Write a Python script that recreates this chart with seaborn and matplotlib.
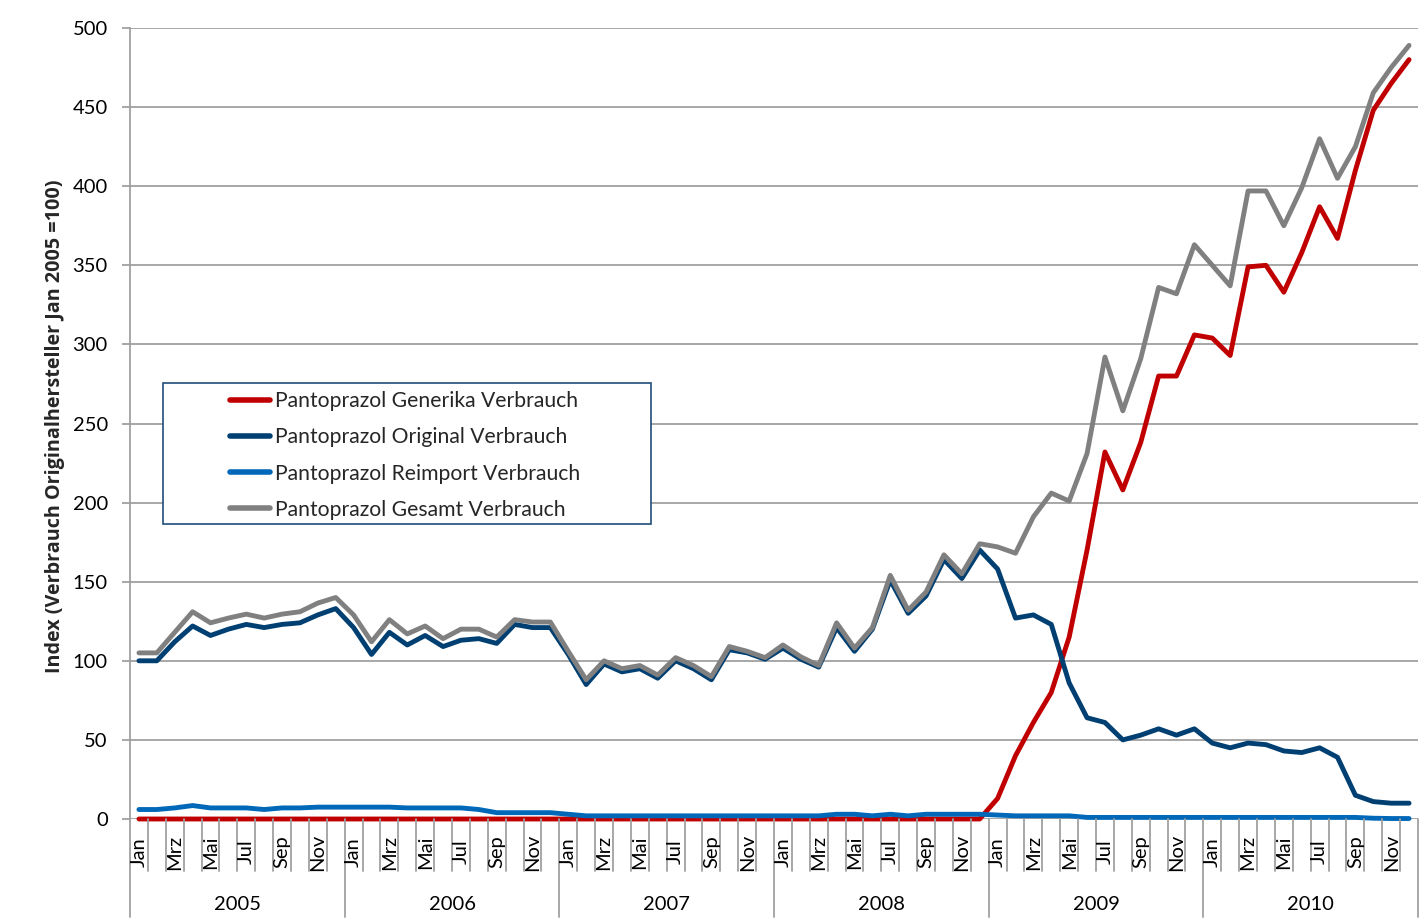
import numpy as np
import pandas as pd
import matplotlib
matplotlib.use("Agg")
import matplotlib.pyplot as plt
import matplotlib.transforms as mtransforms
from matplotlib.patches import Rectangle
import seaborn as sns

years = ["2005", "2006", "2007", "2008", "2009", "2010"]
months = ["Jan", "Feb", "Mrz", "Apr", "Mai", "Jun", "Jul", "Aug", "Sep", "Okt", "Nov", "Dez"]

generika = ([0] * 48 +
            [13, 40, 61, 80, 115, 170, 232, 208, 238, 280, 280, 306] +
            [304, 293, 349, 350, 333, 358, 387, 367, 410, 448, 465, 480])
original = ([100, 100, 112, 122, 116, 120, 123, 121, 123, 124, 129, 133] +
            [121, 104, 118, 110, 116, 109, 113, 114, 111, 123, 121, 121] +
            [104, 85, 98, 93, 95, 89, 100, 95, 88, 107, 105, 101] +
            [108, 101, 96, 121, 106, 120, 151, 130, 141, 164, 152, 170] +
            [158, 127, 129, 123, 86, 64, 61, 50, 53, 57, 53, 57] +
            [48, 45, 48, 47, 43, 42, 45, 39, 15, 11, 10, 10])
reimport = ([6, 6, 7, 8.5, 7, 7, 7, 6, 7, 7, 7.5, 7.5] +
            [7.5, 7.5, 7.5, 7, 7, 7, 7, 6, 4, 4, 4, 4] +
            [3, 2, 2, 2, 2, 2, 2, 2, 2, 2, 2, 2] +
            [2, 2, 2, 3, 3, 2, 3, 2, 3, 3, 3, 3] +
            [2.5, 2, 2, 2, 2, 1, 1, 1, 1, 1, 1, 1] +
            [1, 1, 1, 1, 1, 1, 1, 1, 1, 0.5, 0.3, 0.3])
gesamt = ([105, 105, 118, 131, 124, 127, 129.5, 127, 129.5, 131, 136.5, 140] +
          [129, 112, 126, 117, 122, 114, 120, 120, 115, 126, 124.5, 124.5] +
          [106, 88, 100, 95, 97, 91, 102, 97, 90, 109, 106, 102] +
          [110, 102.5, 97, 124, 108, 121, 154, 132, 143.5, 167, 155, 174] +
          [172, 168, 191, 206, 201, 231, 292, 258, 291, 336, 332, 363] +
          [350, 337, 397, 397, 375, 399, 430, 405, 425, 459, 475, 489])

series_names = ["Pantoprazol Generika Verbrauch", "Pantoprazol Original Verbrauch",
                "Pantoprazol Reimport Verbrauch", "Pantoprazol Gesamt Verbrauch"]
series_values = [generika, original, reimport, gesamt]
colors = ["#C00000", "#003F72", "#0068B8", "#808080"]

n = len(years) * len(months)
rows = []
for name, vals in zip(series_names, series_values):
    for i, v in enumerate(vals):
        rows.append({"t": i, "value": v, "Serie": name})
df = pd.DataFrame(rows)

sns.set_theme(style="white")
plt.rcParams["font.family"] = ["Lato", "DejaVu Sans"]

W, H = 1425, 923
fig = plt.figure(figsize=(W / 100, H / 100), dpi=100)
L, R, B, T = 130, 1418, 819, 28
ax = fig.add_axes([L / W, 1 - B / H, (R - L) / W, (B - T) / H])

sns.lineplot(data=df, x="t", y="value", hue="Serie", hue_order=series_names,
             palette=colors, linewidth=3.5, ax=ax, sort=False, legend=True)
for ln in ax.get_lines():
    ln.set_solid_joinstyle("round")
    ln.set_solid_capstyle("round")
    ln.set_clip_on(False)

ax.set_xlim(-0.5, n - 0.5)
ax.set_ylim(0, 500)
ax.set_yticks(np.arange(0, 501, 50))
ax.yaxis.grid(True, color="#A0A0A0", linewidth=1.3)
ax.set_axisbelow(True)
ax.tick_params(axis="y", length=6, width=1.3, color="#A0A0A0", labelsize=14.5, pad=10,
               left=True, labelcolor="black")
ax.set_xticks([])
ax.set_xlabel("")
for s in ["top", "right", "bottom"]:
    ax.spines[s].set_visible(False)
ax.spines["left"].set_color("#A0A0A0")
ax.spines["left"].set_linewidth(1.3)
ax.set_ylabel("Index (Verbrauch Originalhersteller Jan 2005 =100)", fontsize=14.2,
              fontweight="bold", family=["Open Sans", "DejaVu Sans"], labelpad=10)
ax.yaxis.set_label_coords((65 - L) / (R - L), (B - 426) / (B - T))

# category axis (two levels)
trans = mtransforms.blended_transform_factory(ax.transData, fig.transFigure)
y_axis = 1 - B / H
y_month_end = 1 - 871 / H
y_year_end = 1 - 917 / H
for k in range(n + 1):
    x = k - 0.5
    y_end = y_year_end if k % 12 == 0 else y_month_end
    ax.plot([x, x], [y_axis, y_end], transform=trans, color="#A0A0A0",
            linewidth=1.3, clip_on=False)
for i in range(n):
    if i % 2 == 0:
        ax.text(i, 1 - 852 / H, months[i % 12], transform=trans, rotation=90,
                ha="center", va="center", fontsize=14.5, color="black")
for j, yr in enumerate(years):
    ax.text(j * 12 + 5.5, 1 - 905 / H, yr, transform=trans, ha="center",
            va="center", fontsize=14.5, color="black")

# legend
handles, labels = ax.get_legend_handles_labels()
ax.get_legend().remove()
box = Rectangle(((163 - L) / (R - L), (B - 524) / (B - T)),
                (651 - 163) / (R - L), (524 - 383) / (B - T),
                transform=ax.transAxes, facecolor="white", edgecolor="#1F4E79",
                linewidth=1.2, zorder=6)
ax.add_patch(box)
leg = ax.legend(handles, labels, loc="upper left",
                bbox_to_anchor=((230 - L) / (R - L), (B - 391) / (B - T)),
                frameon=False, fontsize=15.2, handlelength=1.9, handletextpad=0.25,
                borderpad=0, borderaxespad=0, labelspacing=0.77)
leg.set_zorder(7)
for h in leg.legend_handles:
    h.set_linewidth(4)
    h.set_solid_capstyle("round")

fig.savefig("out.png", dpi=100)
